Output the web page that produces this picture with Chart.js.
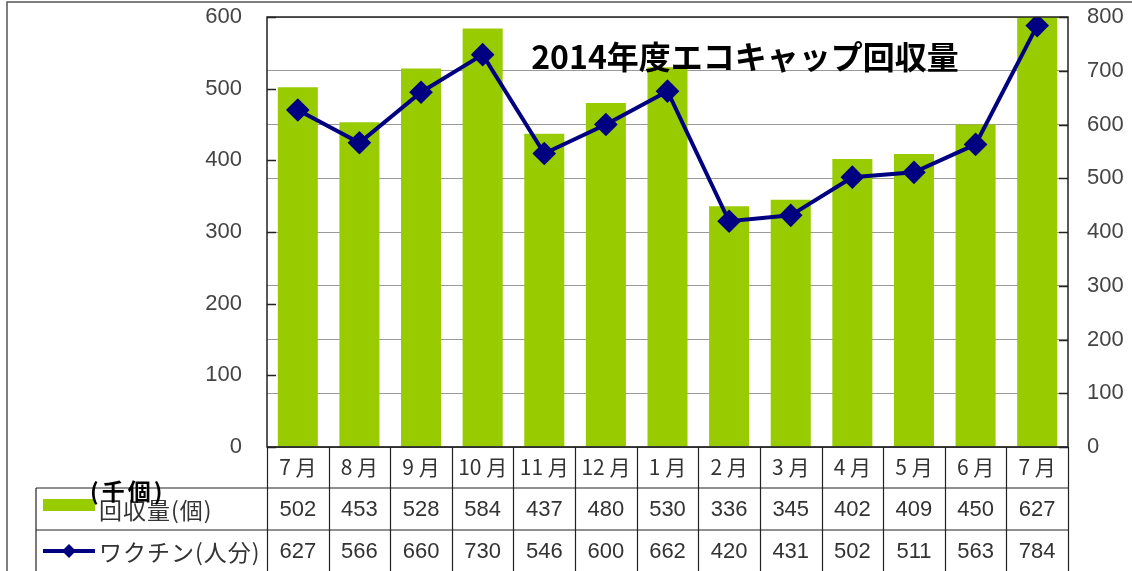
<!DOCTYPE html>
<html>
<head>
<meta charset="utf-8">
<script src="https://cdn.jsdelivr.net/npm/chart.js@4"></script>
<style>
  body { margin: 0; background: #fff; }
  canvas { display: block; }
</style>
</head>
<body>
<canvas id="myChart" width="1132" height="571"></canvas>
<script>
// chart data
const months = ['7月', '8月', '9月', '10月', '11月', '12月', '1月', '2月', '3月', '4月', '5月', '6月', '7月'];
const capCounts = [502, 453, 528, 584, 437, 480, 530, 336, 345, 402, 409, 450, 627];
const vaccines = [627, 566, 660, 730, 546, 600, 662, 420, 431, 502, 511, 563, 784];
const capLabel = '回収量(個)';
const vaccineLabel = 'ワクチン(人分)';
const unitLabel = '(千個)';
const chartTitle = '2014年度エコキャップ回収量';

const GREEN = '#99cc00';
const NAVY = '#000080';
const numFont = '"Liberation Sans", Arial, sans-serif';
const jpFont = '"Noto Sans CJK JP", "Liberation Sans", sans-serif';

// draws title, inner ticks, frame and the data table under the plot
const tablePlugin = {
  id: 'dataTable',
  afterDraw(chart) {
    const ctx = chart.ctx;
    const a = chart.chartArea;
    const n = months.length;
    const cw = (a.right - a.left) / n;
    const rows = [a.bottom, a.bottom + 41, a.bottom + 83, a.bottom + 125];
    const legLeft = 36;

    ctx.save();

    // title
    ctx.fillStyle = '#000';
    ctx.font = 'bold 32px ' + jpFont;
    ctx.textAlign = 'center';
    ctx.textBaseline = 'alphabetic';
    ctx.fillText(chartTitle, 745, 69);

    // plot frame
    ctx.strokeStyle = '#222';
    ctx.lineWidth = 1.5;
    ctx.strokeRect(a.left, a.top, a.right - a.left, a.bottom - a.top);

    // inner tick marks
    const yl = chart.scales.y, yr = chart.scales.y1;
    for (let v = 0; v <= 600; v += 100) {
      const py = Math.round(yl.getPixelForValue(v)) + 0.5;
      ctx.beginPath(); ctx.moveTo(a.left, py); ctx.lineTo(a.left + 9, py); ctx.stroke();
    }
    for (let v = 0; v <= 800; v += 100) {
      const py = Math.round(yr.getPixelForValue(v)) + 0.5;
      ctx.beginPath(); ctx.moveTo(a.right - 9, py); ctx.lineTo(a.right, py); ctx.stroke();
    }

    // table lines
    ctx.strokeStyle = '#222';
    ctx.lineWidth = 1.2;
    ctx.beginPath();
    ctx.moveTo(a.left, rows[0]); ctx.lineTo(a.right, rows[0]);
    ctx.moveTo(legLeft, rows[1]); ctx.lineTo(a.right, rows[1]);
    ctx.moveTo(legLeft, rows[2]); ctx.lineTo(a.right, rows[2]);
    ctx.moveTo(legLeft, rows[3]); ctx.lineTo(a.right, rows[3]);
    ctx.moveTo(legLeft, rows[1]); ctx.lineTo(legLeft, rows[3]);
    for (let i = 0; i <= n; i++) {
      const px = Math.round(a.left + i * cw) + 0.5;
      ctx.moveTo(px, rows[0]); ctx.lineTo(px, rows[3]);
    }
    ctx.stroke();

    // table text
    ctx.fillStyle = '#333';
    ctx.textAlign = 'center';
    ctx.textBaseline = 'middle';
    for (let i = 0; i < n; i++) {
      const cx = a.left + (i + 0.5) * cw;
      ctx.font = '21px ' + jpFont;
      ctx.fillText(months[i].replace('月', ' 月'), cx, (rows[0] + rows[1]) / 2);
      ctx.font = '22px ' + numFont;
      ctx.fillText(String(capCounts[i]), cx, (rows[1] + rows[2]) / 2 + 1);
      ctx.fillText(String(vaccines[i]), cx, (rows[2] + rows[3]) / 2 + 1);
    }

    // legend keys
    ctx.fillStyle = GREEN;
    ctx.fillRect(43, 499, 52, 12);
    const ly = (rows[2] + rows[3]) / 2;
    ctx.strokeStyle = NAVY;
    ctx.lineWidth = 4;
    ctx.beginPath(); ctx.moveTo(43, ly); ctx.lineTo(95, ly); ctx.stroke();
    ctx.fillStyle = NAVY;
    ctx.beginPath();
    ctx.moveTo(69, ly - 7); ctx.lineTo(76, ly); ctx.lineTo(69, ly + 7); ctx.lineTo(62, ly);
    ctx.closePath(); ctx.fill();

    ctx.fillStyle = '#333';
    ctx.textAlign = 'left';
    ctx.font = '23px ' + jpFont;
    ctx.letterSpacing = '1px';
    ctx.fillText(capLabel, 99, (rows[1] + rows[2]) / 2 + 1);
    ctx.fillText(vaccineLabel, 99, ly + 1);

    ctx.fillStyle = '#000';
    ctx.font = 'bold 23px ' + jpFont;
    ctx.letterSpacing = '3px';
    ctx.fillText(unitLabel, 90, 491);
    ctx.letterSpacing = '0px';

    // outer frame
    ctx.strokeStyle = '#555';
    ctx.lineWidth = 1.5;
    ctx.beginPath();
    ctx.moveTo(7, 571); ctx.lineTo(7, 2); ctx.lineTo(1132, 2);
    ctx.stroke();

    ctx.restore();
  }
};

const data = {
  labels: months,
  datasets: [{
    type: 'line',
    label: vaccineLabel,
    data: vaccines,
    borderColor: NAVY,
    backgroundColor: NAVY,
    borderWidth: 4,
    pointStyle: 'rectRot',
    pointRadius: 9,
    pointHoverRadius: 9,
    tension: 0,
    yAxisID: 'y1',
    order: 1
  }, {
    type: 'bar',
    label: capLabel,
    data: capCounts,
    backgroundColor: GREEN,
    borderWidth: 0,
    categoryPercentage: 1,
    barPercentage: 0.65,
    yAxisID: 'y',
    order: 2
  }]
};

const fixSide = (w) => (s) => { s.width = w; s.paddingTop = 0; s.paddingBottom = 0; };

const chart = new Chart(document.getElementById('myChart'), {
  data: data,
  plugins: [tablePlugin],
  options: {
    responsive: false,
    animation: false,
    layout: { padding: { top: 17, left: 0, right: 0, bottom: 0 } },
    plugins: {
      legend: { display: false },
      title: { display: false },
      tooltip: { enabled: false }
    },
    scales: {
      x: {
        offset: true,
        grid: { display: false },
        border: { display: false },
        ticks: { display: false },
        afterFit: (s) => { s.height = 124; s.paddingLeft = 0; s.paddingRight = 0; }
      },
      y: {
        position: 'left',
        min: 0,
        max: 600,
        ticks: { stepSize: 100, padding: 25, color: '#444', font: { family: numFont, size: 22 } },
        grid: { drawOnChartArea: false, drawTicks: false },
        border: { display: false },
        afterFit: fixSide(267)
      },
      y1: {
        position: 'right',
        min: 0,
        max: 800,
        ticks: { stepSize: 100, padding: 19, color: '#444', font: { family: numFont, size: 22 } },
        grid: { drawOnChartArea: true, drawTicks: false, color: '#999', lineWidth: 1 },
        border: { display: false },
        afterFit: fixSide(64)
      }
    }
  }
});
</script>
</body>
</html>
